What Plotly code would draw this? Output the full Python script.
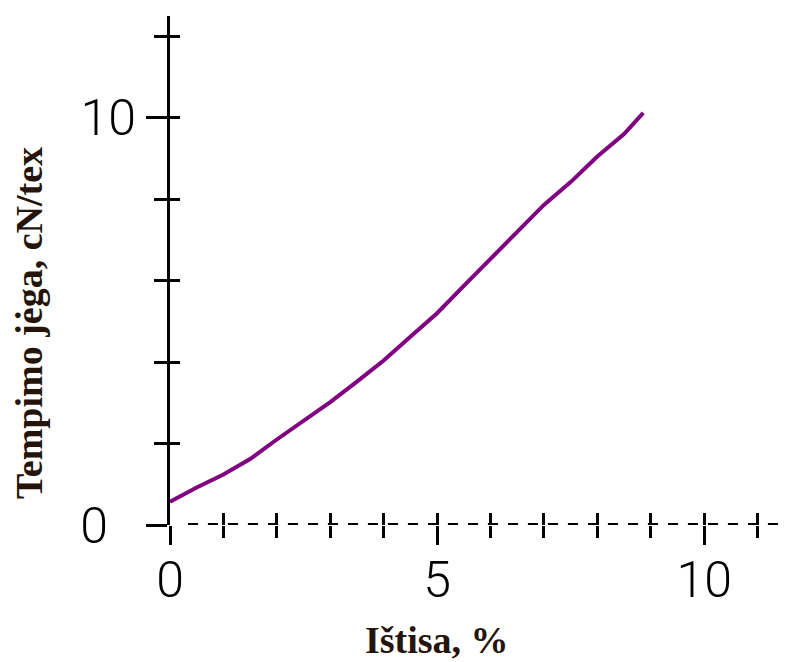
import plotly.graph_objects as go

# Data
strain = [0, 0.5, 1, 1.5, 2, 2.5, 3, 3.5, 4, 4.5, 5, 5.5, 6, 6.5, 7, 7.5, 8, 8.5, 8.86]
force = [0.57, 0.92, 1.24, 1.62, 2.1, 2.55, 3.02, 3.52, 4.04, 4.62, 5.2, 5.87, 6.55, 7.2, 7.86, 8.42, 9.05, 9.6, 10.12]

x_major = [0, 5, 10]
x_minor = [1, 2, 3, 4, 6, 7, 8, 9, 11]
y_major = [0, 10]
y_major_text = ["0\u2007", "10"]
y_minor = [2, 4, 6, 8, 12]

x_title = "Ištisa, %"
y_title = "Tempimo jėga, cN/tex"

XR = [0, 11.57]
YR = [0, 12.5]

tickfont = dict(family="Roboto", size=50, color="black", weight=300)
title_font = dict(family="Liberation Serif", size=38, color="#24140a", weight="bold")

fig = go.Figure()
fig.add_trace(go.Scatter(x=strain, y=force, mode="lines",
                         line=dict(color="#800080", width=4),
                         showlegend=False, hoverinfo="skip"))
fig.add_trace(go.Scatter(x=[], y=[], xaxis="x2", yaxis="y2", showlegend=False))
fig.add_trace(go.Scatter(x=[], y=[], xaxis="x3", yaxis="y3", showlegend=False))

common = dict(showgrid=False, zeroline=False, tickwidth=3, tickcolor="black")

# page body has an 8px margin; sizes compensate so the plot area matches the reference
fig.update_layout(
    width=780, height=654,
    margin=dict(l=162, r=0, t=8, b=137),
    paper_bgcolor="white", plot_bgcolor="white",
    xaxis=dict(range=XR, tickmode="array", tickvals=x_major, ticktext=[str(v) for v in x_major],
               ticks="outside", ticklen=19, showline=False, tickfont=tickfont,
               ticklabelstandoff=-8, **common),
    xaxis2=dict(range=XR, overlaying="x", anchor="y", tickmode="array", tickvals=x_minor,
                ticks="outside", ticklen=12, showticklabels=False, showline=False, **common),
    xaxis3=dict(range=XR, overlaying="x", anchor="y", tickmode="linear", tick0=0, dtick=1,
                ticks="inside", ticklen=12, showticklabels=False, showline=False, **common),
    yaxis=dict(range=YR, tickmode="array", tickvals=y_major, ticktext=y_major_text,
               ticks="outside", ticklen=21, showline=True, linewidth=3, linecolor="black",
               tickfont=tickfont, ticklabelstandoff=0, **common),
    yaxis2=dict(range=YR, overlaying="y", anchor="x", tickmode="array", tickvals=y_minor,
                ticks="outside", ticklen=15, showticklabels=False, showline=False, **common),
    yaxis3=dict(range=YR, overlaying="y", anchor="x", tickmode="linear", tick0=0, dtick=2,
                ticks="inside", ticklen=10, showticklabels=False, showline=False, **common),
    shapes=[dict(type="line", xref="paper", x0=0.029, x1=1, yref="y", y0=0, y1=0,
                 line=dict(color="black", width=4, dash="10px,10px"))],
    annotations=[
        dict(text=x_title, xref="paper", yref="paper", x=0.432, y=-0.225,
             xanchor="center", yanchor="middle", showarrow=False, font=title_font),
        dict(text=y_title, xref="paper", yref="paper", x=-0.228, y=0.397,
             xanchor="center", yanchor="middle", showarrow=False, textangle=-90,
             font=title_font),
    ],
)

fig.write_html("out.html")
